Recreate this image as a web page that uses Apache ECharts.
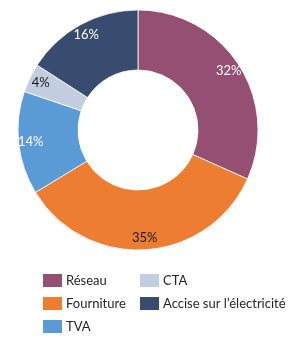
<!DOCTYPE html>
<html>
<head>
<meta charset="utf-8">
<script src="https://cdn.jsdelivr.net/npm/echarts@6/dist/echarts.min.js"></script>
<style>
    html, body { margin: 0; padding: 0; background: #fff; }
    #chart { width: 300px; height: 338px; }
</style>
</head>
<body>
<div id="chart"></div>
<script>
const categories = ["Réseau", "Fourniture", "TVA", "CTA", "Accise sur l’électricité"];
const values = [31.7, 34.6, 13.9, 3.9, 15.9];
const colors = ["#944F72", "#ED7D31", "#5B9BD5", "#C3CDE0", "#374C6E"];
const labelColors = ["#fff", "#1a1a1a", "#fff", "#1a1a1a", "#fff"];

const font = "Lato, 'Open Sans', sans-serif";

const data = categories.map((name, i) => ({
    name: name,
    value: values[i],
    itemStyle: { color: colors[i] },
    label: { color: labelColors[i] },
}));

const chart = echarts.init(document.getElementById("chart"));
const legendBase = {
    orient: "vertical",
    padding: 0,
    height: 64,
    itemWidth: 21,
    itemHeight: 15,
    itemGap: 6,
    icon: "rect",
    selectedMode: false,
    textStyle: { fontFamily: font, fontSize: 13, color: "#262626", padding: [0, 0, 0, -2] },
};
chart.setOption({
    color: colors,
    animation: false,
    legend: [
        Object.assign({}, legendBase, { left: 41, top: 272, data: categories.slice(0, 3) }),
        Object.assign({}, legendBase, { left: 138, top: 272, data: categories.slice(3) }),
    ],
    series: [
        {
            type: "pie",
            center: [138, 130],
            radius: [60, 120],
            startAngle: 90,
            label: { show: false },
            itemStyle: { borderColor: "#fff", borderWidth: 0.8 },
            data: data,
        },
        {
            // label ring, placed further out like the original
            type: "pie",
            center: [138, 130],
            radius: [90, 120],
            startAngle: 90,
            silent: true,
            legendHoverLink: false,
            itemStyle: { color: "rgba(0,0,0,0)" },
            label: {
                show: true,
                position: "inside",
                fontFamily: font,
                fontSize: 13,
                formatter: (p) => Math.round(p.value) + "%",
            },
            data: data.map((d) => ({ name: d.name + " ", value: d.value, label: d.label, itemStyle: { color: "rgba(0,0,0,0)" } })),
        },
    ],
});
</script>
</body>
</html>
